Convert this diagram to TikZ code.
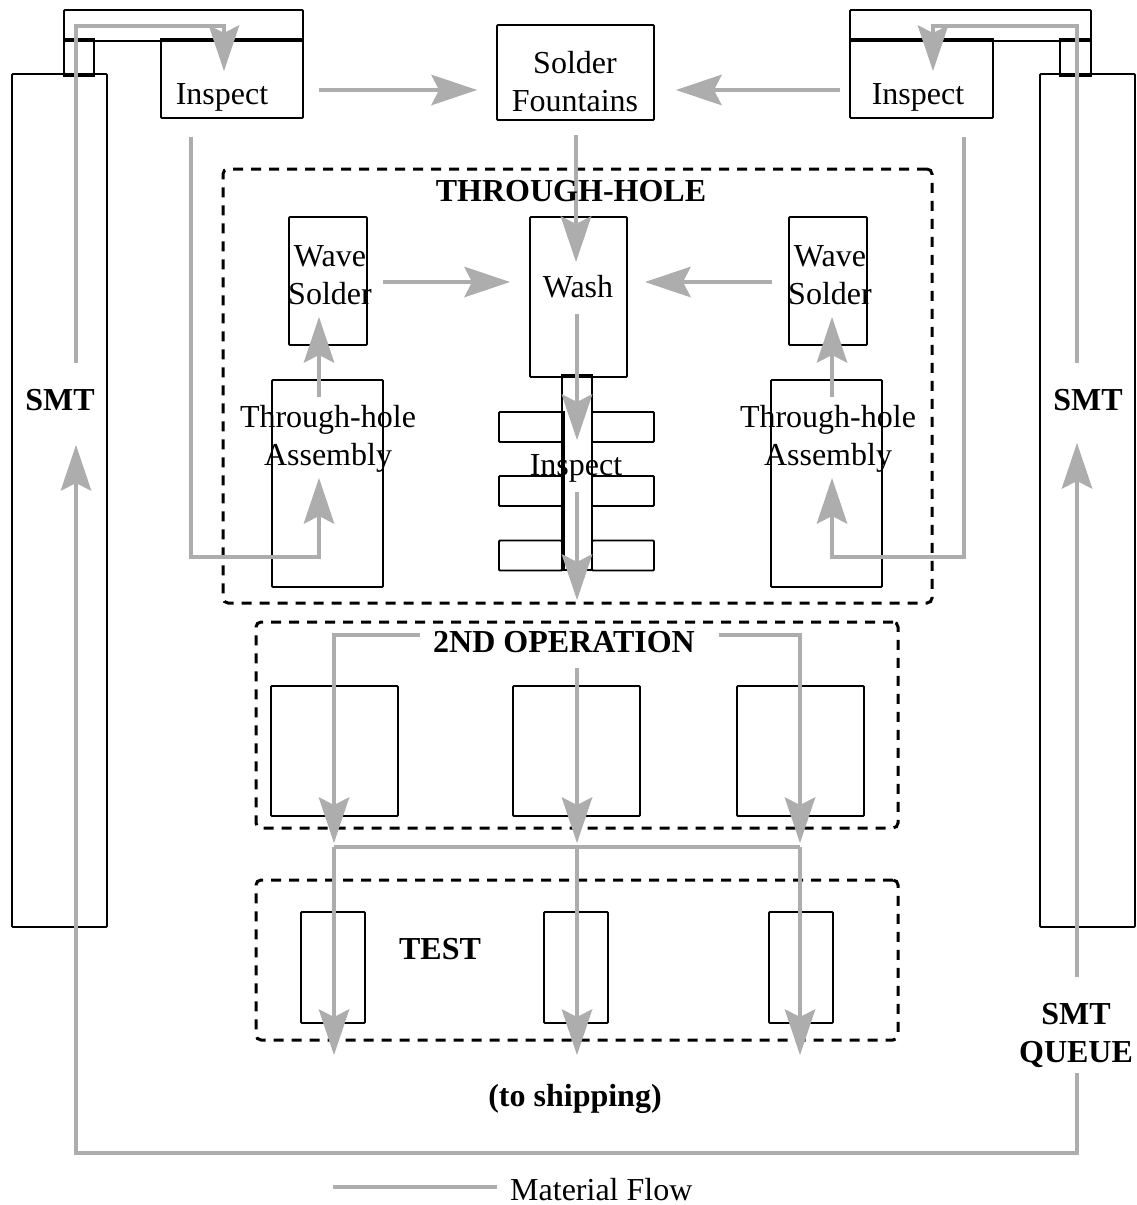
\documentclass[tikz,border=0pt]{standalone}
\usepackage{fontspec}
\setmainfont{Liberation Serif}
\usetikzlibrary{arrows.meta}
\definecolor{flowgray}{gray}{0.68}
\begin{document}
\begin{tikzpicture}[x=1pt,y=-1pt,
 box/.style={draw, line width=1.8pt, inner sep=0pt, rounded corners=1pt},
 zone/.style={draw, line width=3pt, dash pattern=on 10pt off 8pt, rounded corners=5pt, inner sep=0pt},
 lab/.style={font=\fontsize{32}{38}\selectfont, inner sep=0pt, anchor=base},
 blab/.style={font=\fontsize{32}{38}\selectfont\bfseries, inner sep=0pt, anchor=base},
 flow/.style={draw=flowgray, line width=3.8pt},
 flowarrow/.style={flow, -{Stealth[length=46pt,width=31pt,inset=8pt,line width=0pt,fill=flowgray]}},
 joint/.style={line width=4pt, line cap=butt},
]
\useasboundingbox (0,0) rectangle (1136,1205);

% ---------- left SMT group ----------
\node[box, minimum width=95pt, minimum height=853pt] (smtL) at (59.5,500.5) {};
\node[box, minimum width=30pt, minimum height=33pt] (capL) at (79,57.5) {};
\node[box, minimum width=239pt, minimum height=31pt] (barL) at (183.5,25.5) {};
\node[box, minimum width=142pt, minimum height=77pt] (insL) at (232,79.5) {};
\draw[joint] (capL.north west) -- (capL.north east);
\draw[joint] (capL.south west) -- (capL.south east);
\draw[joint] (insL.north west) -- (insL.north east);
% ---------- right SMT group ----------
\node[box, minimum width=95pt, minimum height=853pt] (smtR) at (1087.5,500.5) {};
\node[box, minimum width=31pt, minimum height=33pt] (capR) at (1075.5,57.5) {};
\node[box, minimum width=241pt, minimum height=31pt] (barR) at (970.5,25.5) {};
\node[box, minimum width=143pt, minimum height=77pt] (insR) at (921.5,79.5) {};
\draw[joint] (capR.north west) -- (capR.north east);
\draw[joint] (capR.south west) -- (capR.south east);
\draw[joint] (insR.north west) -- (insR.north east);
% ---------- solder fountains ----------
\node[box, minimum width=157pt, minimum height=95pt] (sf) at (575.5,72.5) {};

% ---------- through-hole zone ----------
\node[zone, minimum width=709pt, minimum height=434pt] (thz) at (577.5,386) {};
\node[box, minimum width=78pt, minimum height=128pt] (wsL) at (328,281) {};
\node[box, minimum width=78pt, minimum height=128pt] (wsR) at (828,281) {};
\node[box, minimum width=111pt, minimum height=207pt] (taL) at (327.5,483.5) {};
\node[box, minimum width=111pt, minimum height=207pt] (taR) at (826.5,483.5) {};
\node[box, minimum width=97pt, minimum height=160pt] (wash) at (578.5,297) {};
\node[box, minimum width=30pt, minimum height=193pt] (tube) at (577,473.5) {};
\node[box, minimum width=63pt, minimum height=30pt] (sl1) at (530.5,427) {};
\node[box, minimum width=63pt, minimum height=30pt] (sl2) at (530.5,491) {};
\node[box, minimum width=63pt, minimum height=30pt] (sl3) at (530.5,555.5) {};
\node[box, minimum width=62pt, minimum height=30pt] (sr1) at (623,427) {};
\node[box, minimum width=62pt, minimum height=30pt] (sr2) at (623,491) {};
\node[box, minimum width=62pt, minimum height=30pt] (sr3) at (623,555.5) {};
\draw[joint] (tube.north west) -- (tube.north east);
\draw[line width=3.5pt] (sl1.north east) -- (sl3.south east);

% ---------- 2nd operation zone ----------
\node[zone, minimum width=642pt, minimum height=206pt] (opz) at (577,725) {};
\node[box, minimum width=127pt, minimum height=130pt] (op1) at (334.5,751) {};
\node[box, minimum width=127pt, minimum height=130pt] (op2) at (576.5,751) {};
\node[box, minimum width=127pt, minimum height=130pt] (op3) at (800.5,751) {};

% ---------- test zone ----------
\node[zone, minimum width=642pt, minimum height=160pt] (tz) at (577,960) {};
\node[box, minimum width=64pt, minimum height=111pt] (ts1) at (333,967.5) {};
\node[box, minimum width=64pt, minimum height=111pt] (ts2) at (576,967.5) {};
\node[box, minimum width=64pt, minimum height=111pt] (ts3) at (801,967.5) {};

% ---------- flow coordinates ----------
\coordinate (qTop) at (1077,977);
\coordinate (qBot) at (1077,1073);
\coordinate (cBR) at (1077,1153);
\coordinate (cBL) at (76,1153);
\coordinate (smtLin) at (76,445);
\coordinate (smtRin) at (1077,443);
\coordinate (smtLout) at (76,363);
\coordinate (smtRout) at (1077,363);
\coordinate (cTL) at (76,26);
\coordinate (cTLa) at (224,26);
\coordinate (insLin) at (224,71);
\coordinate (cTR) at (1077,26);
\coordinate (cTRa) at (933,26);
\coordinate (insRin) at (933,71);
\coordinate (insLout) at (319,90);
\coordinate (sfinL) at (477,90);
\coordinate (insRout) at (840,90);
\coordinate (sfinR) at (676,90);
\coordinate (sfout) at (576,135);
\coordinate (washin) at (576,262);
\coordinate (insLdown) at (191,137);
\coordinate (cLL) at (191,557);
\coordinate (cLLa) at (319,557);
\coordinate (taLin) at (319,478);
\coordinate (insRdown) at (964,137);
\coordinate (cRL) at (964,557);
\coordinate (cRLa) at (832,557);
\coordinate (taRin) at (832,478);
\coordinate (taLout) at (319,397);
\coordinate (wsLin) at (319,317);
\coordinate (taRout) at (832,397);
\coordinate (wsRin) at (832,317);
\coordinate (wsLout) at (383,282);
\coordinate (washinL) at (510,282);
\coordinate (wsRout) at (772,282);
\coordinate (washinR) at (645,282);
\coordinate (washout) at (577,314);
\coordinate (tubein) at (577,440);
\coordinate (tubeout) at (577,492);
\coordinate (thout) at (577,600);
\coordinate (o1s) at (420,635);
\coordinate (o1c) at (334,635);
\coordinate (o1e) at (334,843);
\coordinate (o2s) at (577,668);
\coordinate (o2e) at (577,843);
\coordinate (o3s) at (719,635);
\coordinate (o3c) at (800,635);
\coordinate (o3e) at (800,843);
\coordinate (j1) at (334,847);
\coordinate (j2) at (577,847);
\coordinate (j3) at (800,847);
\coordinate (t1e) at (334,1055);
\coordinate (t2e) at (577,1055);
\coordinate (t3e) at (800,1055);
\coordinate (legA) at (333,1187);
\coordinate (legB) at (497,1187);

% ---------- flows ----------
\draw[flowarrow] (qBot) -- (cBR) -- (cBL) -- (smtLin);
\draw[flowarrow] (qTop) -- (smtRin);
\draw[flowarrow] (smtLout) -- (cTL) -- (cTLa) -- (insLin);
\draw[flowarrow] (smtRout) -- (cTR) -- (cTRa) -- (insRin);
\draw[flowarrow] (insLout) -- (sfinL);
\draw[flowarrow] (insRout) -- (sfinR);
\draw[flowarrow] (sfout) -- (washin);
\draw[flowarrow] (insLdown) -- (cLL) -- (cLLa) -- (taLin);
\draw[flowarrow] (insRdown) -- (cRL) -- (cRLa) -- (taRin);
\draw[flowarrow] (taLout) -- (wsLin);
\draw[flowarrow] (taRout) -- (wsRin);
\draw[flowarrow] (wsLout) -- (washinL);
\draw[flowarrow] (wsRout) -- (washinR);
\draw[flowarrow] (washout) -- (tubein);
\draw[flowarrow] (tubeout) -- (thout);
\draw[flowarrow] (o1s) -- (o1c) -- (o1e);
\draw[flowarrow] (o2s) -- (o2e);
\draw[flowarrow] (o3s) -- (o3c) -- (o3e);
\draw[flow] (j1) -- (j3);
\draw[flowarrow] (j1) -- (t1e);
\draw[flowarrow] (j2) -- (t2e);
\draw[flowarrow] (j3) -- (t3e);
\draw[flow] (legA) -- (legB);

% ---------- labels ----------
\node[lab] (tInsL) at (222,104) {Inspect};
\node[lab] (tInsR) at (918,104) {Inspect};
\node[lab] (tSF1) at (575,73) {Solder};
\node[lab] (tSF2) at (575,111) {Fountains};
\node[blab] (tTH) at (571,201) {THROUGH-HOLE};
\node[lab] (tWsL1) at (330,266) {Wave};
\node[lab] (tWsL2) at (330,304) {Solder};
\node[lab] (tWsR1) at (830,266) {Wave};
\node[lab] (tWsR2) at (830,304) {Solder};
\node[lab] (tWash) at (578,297) {Wash};
\node[lab] (tTaL1) at (328,427) {Through-hole};
\node[lab] (tTaL2) at (328,465) {Assembly};
\node[lab] (tTaR1) at (828,427) {Through-hole};
\node[lab] (tTaR2) at (828,465) {Assembly};
\node[lab] (tInsC) at (576,475) {Inspect};
\node[blab] (tSmtL) at (60,410) {SMT};
\node[blab] (tSmtR) at (1088,410) {SMT};
\node[blab] (tOp) at (564,652) {2ND OPERATION};
\node[blab] (tTest) at (440,959) {TEST};
\node[blab] (tQ1) at (1076,1024) {SMT};
\node[blab] (tQ2) at (1076,1062) {QUEUE};
\node[blab] (tShip) at (575,1106) {(to shipping)};
\node[lab, anchor=base west] (tLeg) at (510,1200) {Material Flow};
\end{tikzpicture}
\end{document}
